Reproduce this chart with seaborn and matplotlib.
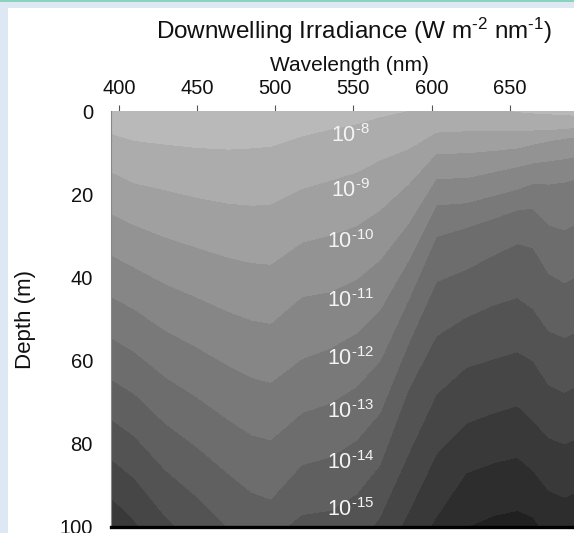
"""
Downwelling irradiance vs wavelength and depth, filled decade contours
"""
import numpy as np
import matplotlib
matplotlib.use('Agg')  # no display
import matplotlib.pyplot as plt
from matplotlib.patches import Rectangle
import seaborn as sns

wavelength_nm = [395, 410, 430, 450, 470, 485, 497, 517, 535, 552,
                 567, 585, 603, 622, 640, 655, 665, 675, 685, 700]

# depth (m) at which Ed crosses each half-decade value, one list per isoline
edge_7_5 = [5.3, 7.0, 7.9, 8.7, 9.1, 8.8, 8.4, 5.9, 4.3, 3.0,
            1.3, -0.2, -2.0, -2.5, -0.8, 0.1, 0.4, 0.6, 0.8, 1.1]
edge_8_5 = [14.5, 17.2, 18.9, 20.7, 22.1, 22.6, 22.3, 18.6, 16.6, 14.6,
            11.7, 9.0, 5.0, 4.7, 4.7, 4.6, 4.5, 4.4, 4.1, 3.6]
edge_9_5 = [24.5, 27.3, 30.3, 32.7, 35.1, 36.4, 36.8, 31.5, 29.8, 27.5,
            23.7, 17.5, 10.1, 10.0, 9.4, 8.8, 7.9, 7.1, 6.5, 5.7]
edge_10_5 = [34.5, 37.5, 41.5, 44.7, 48.1, 50.2, 51.0, 44.6, 43.4, 40.4,
             35.7, 27.0, 16.1, 16.0, 14.5, 13.3, 12.4, 11.9, 11.4, 10.5]
edge_11_5 = [44.5, 47.6, 52.7, 56.7, 61.1, 64.0, 65.2, 59.5, 57.0, 53.3,
             47.7, 36.0, 22.5, 22.0, 20.2, 18.7, 17.3, 17.5, 17.0, 15.5]
edge_12_5 = [54.4, 57.8, 63.9, 68.7, 74.1, 77.8, 79.0, 72.5, 70.2, 66.2,
             60.0, 45.5, 30.1, 28.0, 25.7, 23.7, 23.3, 27.3, 28.5, 25.5]
edge_13_5 = [64.4, 67.9, 75.1, 80.7, 87.1, 91.6, 93.3, 85.0, 83.2, 79.1,
             72.5, 56.0, 41.0, 38.0, 34.5, 31.8, 32.8, 39.0, 41.2, 38.5]
edge_14_5 = [74.0, 78.1, 86.3, 92.7, 100.1, 105.4, 103.0, 97.0, 96.0, 92.0,
             85.0, 67.0, 54.0, 49.5, 46.5, 44.8, 47.5, 52.8, 54.4, 51.5]
edge_15_5 = [83.6, 88.2, 97.5, 104.7, 113.0, 119.0, 117.0, 110.0, 109.0, 104.9,
             97.5, 82.5, 68.0, 61.6, 59.5, 57.8, 60.0, 65.8, 67.6, 64.5]
edge_16_5 = [92.8, 98.4, 108.7, 116.7, 126.0, 133.0, 131.0, 123.0, 122.0, 118.0,
             110.0, 96.5, 82.4, 75.0, 72.5, 70.8, 74.4, 78.5, 80.0, 77.5]
edge_17_5 = [102.8, 108.5, 119.9, 128.7, 139.0, 147.0, 145.0, 136.0, 135.0, 131.0,
             123.0, 109.0, 97.5, 87.0, 84.5, 83.2, 86.4, 91.2, 92.8, 90.5]
edge_18_5 = [112.6, 118.7, 131.1, 140.7, 152.0, 161.0, 159.0, 149.0, 148.0, 144.0,
             136.0, 122.0, 111.0, 100.0, 97.2, 96.0, 97.6, 103.0, 105.0, 103.0]

edge_exponents = [-7.5, -8.5, -9.5, -10.5, -11.5, -12.5,
                  -13.5, -14.5, -15.5, -16.5, -17.5, -18.5]

# in-plot decade labels
label_exponents = [-8, -9, -10, -11, -12, -13, -14, -15]
label_depths = [5.8, 19.0, 31.4, 45.6, 59.4, 72.2, 84.4, 95.9]
label_wavelength = 548

x_ticks = [400, 450, 500, 550, 600, 650]
y_ticks = [0, 20, 40, 60, 80, 100]

# build the curvilinear grid: one row per isoline, plus a row above the
# surface and one far below so the outer bands get filled too
edges = [edge_7_5, edge_8_5, edge_9_5, edge_10_5, edge_11_5, edge_12_5,
         edge_13_5, edge_14_5, edge_15_5, edge_16_5, edge_17_5, edge_18_5]
n_col = len(wavelength_nm)
row_depth = [[-10.0] * n_col] + edges + [[200.0] * n_col]
row_value = [edge_exponents[0] + 1] + edge_exponents + [edge_exponents[-1] - 1]

X = np.tile(np.array(wavelength_nm, dtype=float), (len(row_depth), 1))
Y = np.array(row_depth, dtype=float)
Z = np.repeat(np.array(row_value, dtype=float)[:, None], n_col, axis=1)

levels = np.sort(np.array(row_value)) + 1e-4
band_colors = sns.blend_palette(['#202020', '#b9b9b9'], n_colors=len(levels) - 1)

sns.set_theme(style='white')
plt.rcParams['font.family'] = ['Liberation Sans', 'DejaVu Sans']
plt.rcParams['mathtext.fontset'] = 'custom'
plt.rcParams['mathtext.rm'] = 'Liberation Sans'
plt.rcParams['mathtext.it'] = 'Liberation Sans:italic'
plt.rcParams['mathtext.bf'] = 'Liberation Sans:bold'


def sup(base, exp):
    # superscript with a plain hyphen, as in the original figure
    return base + r'$^{\text{%s}}$' % exp


W, H = 574, 533
fig = plt.figure(figsize=(W / 100, H / 100), dpi=100)
fig.patch.set_facecolor('#dde8f4')
# white page with the light blue frame and teal rule at the top
fig.patches.append(Rectangle((8 / W, 0), 1, (H - 8) / H, transform=fig.transFigure,
                             facecolor='white', edgecolor='none', zorder=-1))
fig.patches.append(Rectangle((0, (H - 2) / H), 1, 2 / H, transform=fig.transFigure,
                             facecolor='#8ad3bd', edgecolor='none', zorder=-1))

px_per_nm = 1.5636
ax_left, ax_top, ax_bottom = 111, 111.3, 527
ax = fig.add_axes([ax_left / W, (H - ax_bottom) / H,
                   (700 - 395) * px_per_nm / W, (ax_bottom - ax_top) / H])

ax.contourf(X, Y, Z, levels=levels, colors=band_colors)

for exp, depth in zip(label_exponents, label_depths):
    ax.text(label_wavelength, depth, sup('10', '%d' % exp), color='#f4f4f4',
            fontsize=15.5, ha='center', va='center')

ax.set_xlim(395, 700)
ax.set_ylim(100, 0)
ax.xaxis.tick_top()
ax.xaxis.set_label_position('top')
ax.set_xticks(x_ticks)
ax.set_yticks(y_ticks)
ax.tick_params(axis='x', length=4.5, width=0.8, color='#555555', pad=5,
               labelsize=14.5, labelcolor='#111111')
ax.tick_params(axis='y', length=7, width=0.8, color='#555555', pad=6,
               labelsize=14.5, labelcolor='#111111')
ax.set_xlabel('Wavelength (nm)', fontsize=15, color='#111111', labelpad=6)
ax.set_ylabel('Depth (m)', fontsize=16, color='#111111', labelpad=17)

for side in ['top', 'right']:
    ax.spines[side].set_visible(False)
ax.spines['left'].set_color('#888888')
ax.spines['left'].set_linewidth(0.8)
ax.spines['bottom'].set_color('black')
ax.spines['bottom'].set_linewidth(2.4)

fig.text(354 / W, 1 - 31 / H,
         'Downwelling Irradiance (W m' + r'$^{\text{-2}}$' + ' nm' + r'$^{\text{-1}}$' + ')',
         fontsize=17.5, color='#111111', ha='center', va='center')

fig.savefig('out.png', dpi=100, facecolor=fig.get_facecolor())
